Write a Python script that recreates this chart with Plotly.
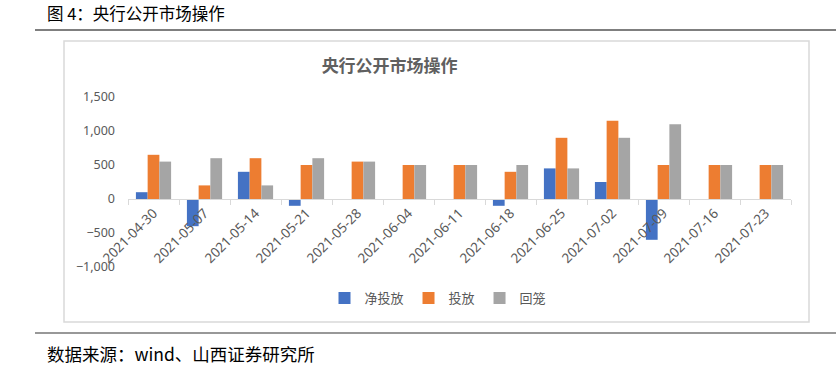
import plotly.graph_objects as go

dates = ["2021-04-30", "2021-05-07", "2021-05-14", "2021-05-21", "2021-05-28",
         "2021-06-04", "2021-06-11", "2021-06-18", "2021-06-25", "2021-07-02",
         "2021-07-09", "2021-07-16", "2021-07-23"]
net_injection = [100, -400, 400, -100, 0, 0, 0, -100, 450, 250, -600, 0, 0]
injection = [650, 200, 600, 500, 550, 500, 500, 400, 900, 1150, 500, 500, 500]
withdrawal = [550, 600, 200, 600, 550, 500, 500, 500, 450, 900, 1100, 500, 500]
series_names = ["净投放", "投放", "回笼"]
colors = ["#4472C4", "#ED7D31", "#A5A5A5"]
y_tickvals = [-1000, -500, 0, 500, 1000, 1500]

W, H = 836, 365
PL, PR, PT, PB = 128, 791, 97, 267  # plot area in pixels


def px(x):
    return (x - PL) / (PR - PL)


def py(y):
    return (PB - y) / (PB - PT)


fig = go.Figure()
for name, vals, c in zip(series_names, [net_injection, injection, withdrawal], colors):
    fig.add_trace(go.Bar(x=dates, y=vals, name=name, marker=dict(color=c, line=dict(width=0))))

gray_txt = "#595959"
fig.update_layout(
    width=W, height=H,
    margin=dict(l=PL, r=W - PR, t=PT, b=H - PB, autoexpand=False),
    paper_bgcolor="white", plot_bgcolor="white",
    barmode="group", bargap=0.31, bargroupgap=0,
    font=dict(family="Noto Sans CJK SC, Noto Sans", color=gray_txt),
    showlegend=True,
    legend=dict(orientation="h", x=px(438), xanchor="center", y=py(298), yanchor="middle",
                font=dict(size=13, color=gray_txt, family="Noto Sans CJK SC"),
                bgcolor="rgba(0,0,0,0)", itemwidth=30, tracegroupgap=0),
    xaxis=dict(type="category", anchor="free", position=0.4,
               showline=True, linecolor="#D9D9D9", linewidth=1,
               ticks="outside", tickson="boundaries", ticklen=5, tickcolor="#D9D9D9",
               tickangle=-45, tickfont=dict(size=13.5, color=gray_txt, family="Noto Sans"),
               showgrid=False, zeroline=False),
    yaxis=dict(range=[-1000, 1500], tickvals=y_tickvals, tickformat=",d",
               showgrid=False, zeroline=False, showline=False,
               tickfont=dict(size=12.5, color=gray_txt, family="Noto Sans"),
               ticklabelstandoff=12),
    title=dict(text="<b>央行公开市场操作</b>", x=px(437), xanchor="center", y=1 - 66 / H, yanchor="middle",
               font=dict(size=17, color="#606060", family="Noto Sans CJK SC")),
)

# Excel chart frame
fig.add_shape(type="rect", xref="paper", yref="paper",
              x0=px(64), x1=px(809), y0=py(322), y1=py(41),
              line=dict(color="#D9D9D9", width=1.5), fillcolor="rgba(0,0,0,0)", layer="below")
# document separator lines
fig.add_shape(type="line", xref="paper", yref="paper", x0=px(35), x1=px(836), y0=py(30), y1=py(30),
              line=dict(color="#000000", width=1.2))
fig.add_shape(type="line", xref="paper", yref="paper", x0=px(35), x1=px(836), y0=py(333), y1=py(333),
              line=dict(color="#333333", width=1.2))

fig.add_annotation(text="图 4：央行公开市场操作", xref="paper", yref="paper", x=px(45), y=py(13),
                   xanchor="left", yanchor="middle", showarrow=False,
                   font=dict(size=16.5, color="#000000", family="Noto Sans CJK SC"))
fig.add_annotation(text="数据来源：wind、山西证券研究所", xref="paper", yref="paper", x=px(45), y=py(353),
                   xanchor="left", yanchor="middle", showarrow=False,
                   font=dict(size=17.5, color="#000000", family="Noto Sans CJK SC"))

fig.write_html("out.html", config={"displayModeBar": False},
               post_script="document.body.style.margin='0';document.body.style.padding='0';")
